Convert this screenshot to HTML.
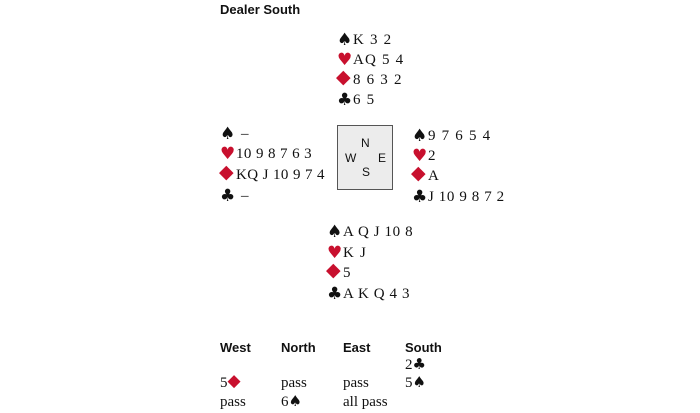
<!DOCTYPE html>
<html><head><meta charset="utf-8"><style>
body{margin:0;width:700px;height:413px;background:#fff;position:relative;overflow:hidden;font-family:"Liberation Serif",serif;color:#111}
.t{position:absolute;white-space:nowrap;font-size:15px;line-height:16px;letter-spacing:1.2px}
.h{position:absolute;white-space:nowrap;font-family:"Liberation Sans",sans-serif;font-weight:bold;font-size:13px;line-height:16px}
.r{color:#c8102e}
.s{display:inline-block;width:16px;font-size:17px;line-height:10px;font-family:"DejaVu Sans",sans-serif;letter-spacing:0;vertical-align:-1px}
.d{font-size:19px;position:relative;top:-2px;left:-1px}
.bs{font-size:15px;line-height:10px;font-family:"DejaVu Sans",sans-serif}
.bd{font-size:17px;position:relative;top:-1px}
.box{position:absolute;left:337px;top:125px;width:54px;height:63px;background:#ececec;border:1.5px solid #555}
.c{position:absolute;font-family:"Liberation Sans",sans-serif;font-size:12px;line-height:14px}
.b{position:absolute;white-space:nowrap;font-size:15px;line-height:16px}
</style></head><body>
<div class="h" style="left:220px;top:2px">Dealer South</div>

<div class="t" style="left:337px;top:32px"><span class="s">♠</span>K 3 2</div>
<div class="t" style="left:337px;top:52px"><span class="s r">♥</span>AQ 5 4</div>
<div class="t" style="left:337px;top:72px"><span class="s r d">◆</span>8 6 3 2</div>
<div class="t" style="left:337px;top:92px"><span class="s">♣</span>6 5</div>

<div class="t" style="left:220px;top:126px"><span class="s">♠</span> –</div>
<div class="t" style="left:220px;top:146px;letter-spacing:0.4px"><span class="s r">♥</span>10 9 8 7 6 3</div>
<div class="t" style="left:220px;top:167px;letter-spacing:0.4px"><span class="s r d">◆</span>KQ J 10 9 7 4</div>
<div class="t" style="left:220px;top:188px"><span class="s">♣</span> –</div>

<div class="box"></div>
<div class="c" style="left:361px;top:136px">N</div>
<div class="c" style="left:345px;top:151px">W</div>
<div class="c" style="left:378px;top:151px">E</div>
<div class="c" style="left:362px;top:165px">S</div>

<div class="t" style="left:412px;top:128px"><span class="s">♠</span>9 7 6 5 4</div>
<div class="t" style="left:412px;top:148px"><span class="s r">♥</span>2</div>
<div class="t" style="left:412px;top:168px"><span class="s r d">◆</span>A</div>
<div class="t" style="left:412px;top:189px;letter-spacing:0.6px"><span class="s">♣</span>J 10 9 8 7 2</div>

<div class="t" style="left:327px;top:224px;letter-spacing:0.6px"><span class="s">♠</span>A Q J 10 8</div>
<div class="t" style="left:327px;top:245px"><span class="s r">♥</span>K J</div>
<div class="t" style="left:327px;top:265px"><span class="s r d">◆</span>5</div>
<div class="t" style="left:327px;top:286px;letter-spacing:0.6px"><span class="s">♣</span>A K Q 4 3</div>

<div class="h" style="left:220px;top:340px">West</div>
<div class="h" style="left:281px;top:340px">North</div>
<div class="h" style="left:343px;top:340px">East</div>
<div class="h" style="left:405px;top:340px">South</div>
<div class="b" style="left:405px;top:357px">2<span class="bs">♣</span></div>
<div class="b" style="left:220px;top:375px">5<span class="bs r bd">◆</span></div>
<div class="b" style="left:281px;top:375px">pass</div>
<div class="b" style="left:343px;top:375px">pass</div>
<div class="b" style="left:405px;top:375px">5<span class="bs">♠</span></div>
<div class="b" style="left:220px;top:394px">pass</div>
<div class="b" style="left:281px;top:394px">6<span class="bs">♠</span></div>
<div class="b" style="left:343px;top:394px">all pass</div>
</body></html>
